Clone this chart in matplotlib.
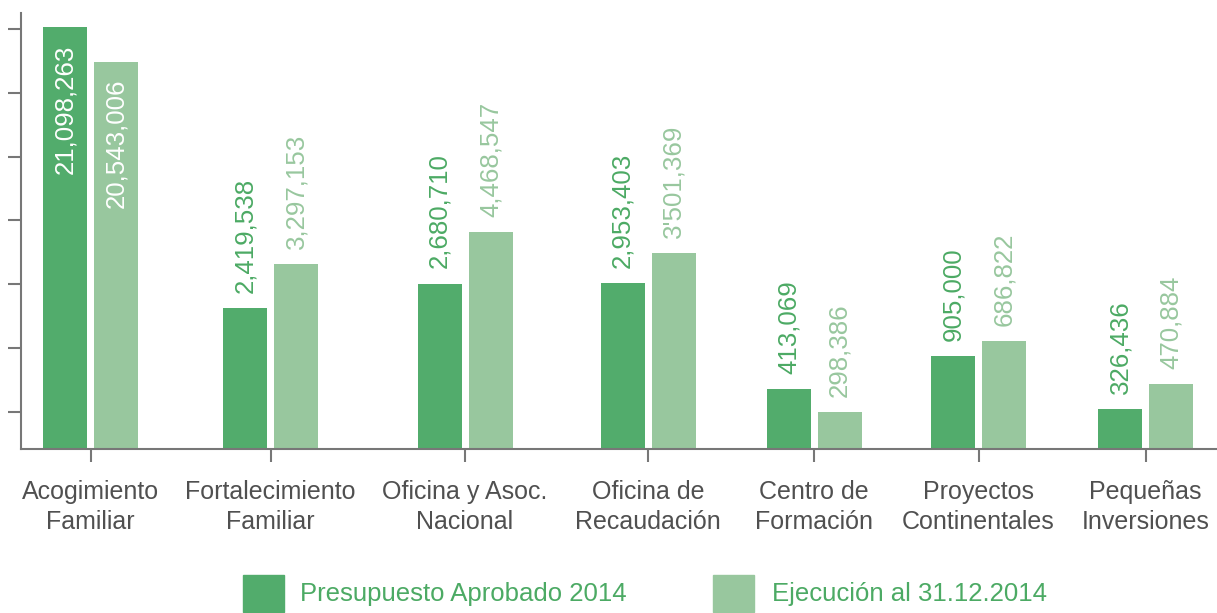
import numpy as np
import matplotlib.pyplot as plt
from matplotlib.patches import Rectangle
import matplotlib.transforms as mtransforms

plt.rcParams['font.family'] = ['Liberation Sans', 'DejaVu Sans']

categorias = ["Acogimiento\nFamiliar", "Fortalecimiento\nFamiliar", "Oficina y Asoc.\nNacional",
              "Oficina de\nRecaudación", "Centro de\nFormación", "Proyectos\nContinentales",
              "Pequeñas\nInversiones"]
presupuesto_txt = ["21,098,263", "2,419,538", "2,680,710", "2,953,403", "413,069", "905,000", "326,436"]
ejecucion_txt = ["20,543,006", "3,297,153", "4,468,547", "3'501,369", "298,386", "686,822", "470,884"]
# alturas de las barras tal como estan dibujadas (en unidades de marca, no proporcionales)
presupuesto_alto = [6.03, 1.63, 2.01, 2.02, 0.36, 0.88, 0.05]
ejecucion_alto = [5.49, 2.32, 2.82, 2.49, 0.0, 1.11, 0.44]
series = ["Presupuesto Aprobado 2014", "Ejecución al 31.12.2014"]

verde = '#52ac6c'
verde_claro = '#98c79e'
gris = '#777777'
base = -0.58

fig = plt.figure(figsize=(12.17, 6.13), dpi=100)
ax = fig.add_axes([21/1217, 1 - 449/613, 1196/1217, 436/613])

pos = np.array([90.5, 270.5, 465, 648, 814, 978.5, 1145.5])
ancho = 44
off = 25.5

h1 = np.array(presupuesto_alto) - base
h2 = np.array(ejecucion_alto) - base
b1 = ax.bar(pos - off, h1, ancho, bottom=base, color=verde)
b2 = ax.bar(pos + off, h2, ancho, bottom=base, color=verde_claro)

for i in range(len(pos)):
    if i == 0:
        ax.annotate(presupuesto_txt[i], (pos[i] - off, presupuesto_alto[i]), xytext=(0, -13),
                    textcoords='offset points', rotation=90, ha='center', va='top',
                    color='white', fontsize=18.6)
        ax.annotate(ejecucion_txt[i], (pos[i] + off, ejecucion_alto[i]), xytext=(0, -12),
                    textcoords='offset points', rotation=90, ha='center', va='top',
                    color='white', fontsize=18.6)
    else:
        ax.annotate(presupuesto_txt[i], (pos[i] - off, presupuesto_alto[i]), xytext=(0, 11),
                    textcoords='offset points', rotation=90, ha='center', va='bottom',
                    color='#4caa64', fontsize=18.6)
        ax.annotate(ejecucion_txt[i], (pos[i] + off, ejecucion_alto[i]), xytext=(0, 11),
                    textcoords='offset points', rotation=90, ha='center', va='bottom',
                    color=verde_claro, fontsize=18.6)

ax.set_xlim(21, 1217)
ax.set_ylim(base, 6.25)
ax.set_yticks(range(7))
ax.set_yticklabels([])
ax.set_xticks(pos)
ax.set_xticklabels(categorias, fontsize=18, color='#505050', linespacing=1.32)
desplaza = mtransforms.ScaledTranslation(4/100, 0, fig.dpi_scale_trans)
for lab in ax.get_xticklabels():
    lab.set_transform(lab.get_transform() + desplaza)

for s in ['top', 'right']:
    ax.spines[s].set_visible(False)
for s in ['left', 'bottom']:
    ax.spines[s].set_color(gris)
    ax.spines[s].set_linewidth(1.5)
ax.tick_params(axis='both', direction='out', length=9.5, width=1.5, color=gris)
ax.tick_params(axis='x', pad=12.5)

# leyenda
fig.patches.append(Rectangle((243/1217, 1 - 612/613), 41/1217, 37/613,
                             transform=fig.transFigure, color=verde))
fig.text(300/1217, 1 - 594/613, series[0], fontsize=18.5, color='#4caa64', va='center')
fig.patches.append(Rectangle((713/1217, 1 - 612/613), 41/1217, 37/613,
                             transform=fig.transFigure, color=verde_claro))
fig.text(772/1217, 1 - 594/613, series[1], fontsize=18.5, color='#4caa64', va='center')

fig.savefig('out.png', dpi=100)
